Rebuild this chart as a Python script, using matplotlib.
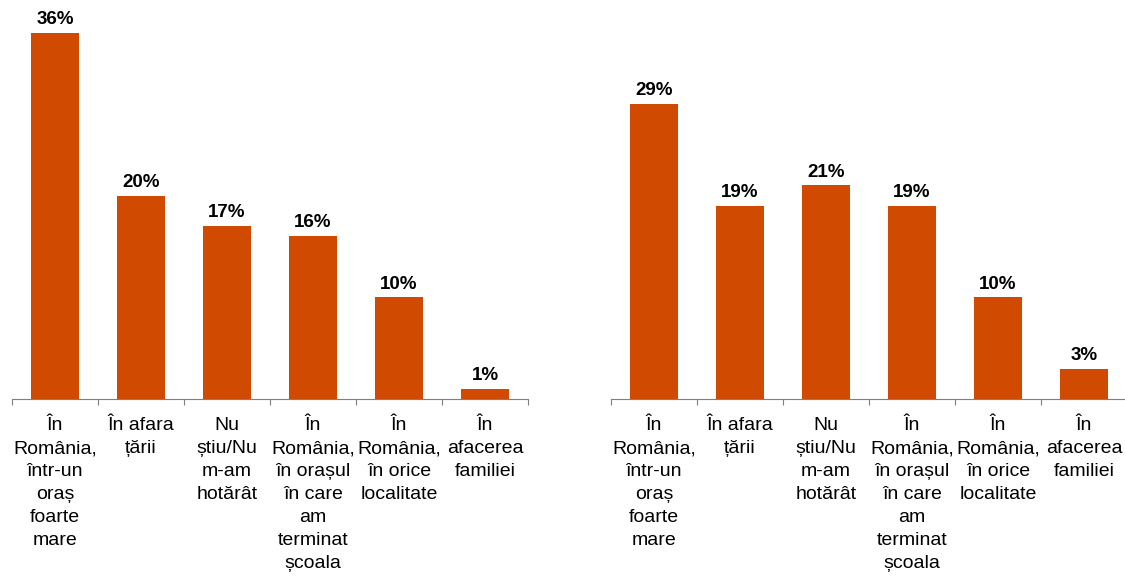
import matplotlib
matplotlib.use("Agg")
import matplotlib.pyplot as plt
import numpy as np

plt.rcParams['font.family'] = ['Liberation Sans', 'DejaVu Sans']

# etichete categorii (împărțite pe rânduri ca în original)
categorii = [
    "În\nRomânia,\nîntr-un\noraș\nfoarte\nmare",
    "În afara\nțării",
    "Nu\nștiu/Nu\nm-am\nhotărât",
    "În\nRomânia,\nîn orașul\nîn care\nam\nterminat\nșcoala",
    "În\nRomânia,\nîn orice\nlocalitate",
    "În\nafacerea\nfamiliei",
]
valori_stanga = [36, 20, 17, 16, 10, 1]
valori_dreapta = [29, 19, 21, 19, 10, 3]

culoare = '#D04A02'

fig = plt.figure(figsize=(11.25, 5.76), dpi=100)
ax1 = fig.add_axes([12 / 1125, 0.307, 516 / 1125, 0.684])
ax2 = fig.add_axes([611 / 1125, 0.307, 516 / 1125, 0.684])

for ax, valori in [(ax1, valori_stanga), (ax2, valori_dreapta)]:
    x = np.arange(len(categorii))
    bare = ax.bar(x, valori, width=0.55, color=culoare)
    for b, v in zip(bare, valori):
        ax.annotate(f"{v}%", (b.get_x() + b.get_width() / 2, v),
                    xytext=(0, 3.5), textcoords='offset points',
                    ha='center', va='bottom', fontsize=13.5, fontweight='bold')
    ax.set_xlim(-0.5, len(categorii) - 0.5)
    ax.set_ylim(0, 38.7)
    # linii de separare între categorii
    ax.set_xticks(np.arange(len(categorii) + 1) - 0.5)
    ax.set_xticklabels([])
    ax.tick_params(axis='x', which='major', length=4, color='#7f7f7f', direction='out')
    ax.set_xticks(x, minor=True)
    ax.set_xticklabels(categorii, minor=True, fontsize=14, linespacing=1.46, va='top')
    ax.tick_params(axis='x', which='minor', length=0, pad=13)
    ax.set_yticks([])
    for s in ['top', 'right', 'left']:
        ax.spines[s].set_visible(False)
    ax.spines['bottom'].set_color('#7f7f7f')

fig.savefig("out.png", dpi=100)
